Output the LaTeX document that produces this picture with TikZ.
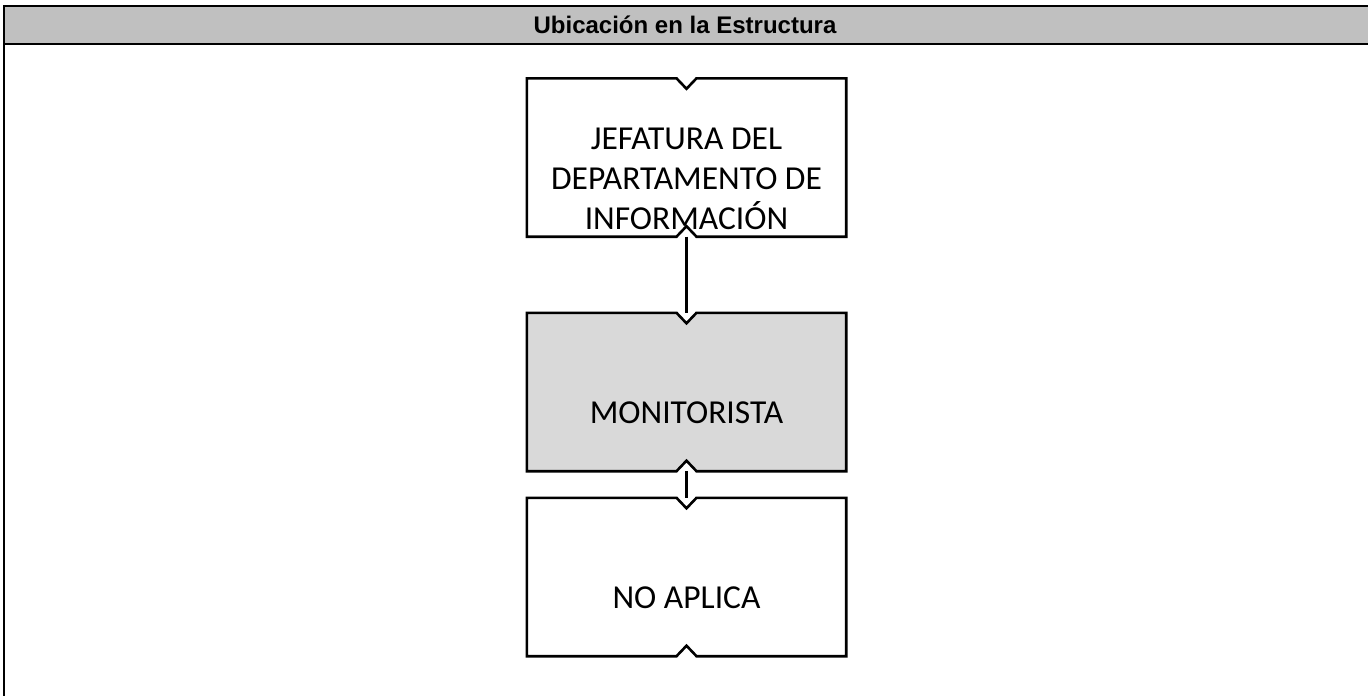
\documentclass[tikz,border=0pt]{standalone}
\usepackage{fontspec}
\newfontfamily\boxfont{Carlito}
\newfontfamily\headfont{Liberation Sans}
\usetikzlibrary{backgrounds}

\definecolor{headgray}{HTML}{C0C0C0}
\definecolor{boxgray}{HTML}{D9D9D9}

\tikzset{
    frameline/.style={line width=2.6pt},
    boxline/.style={line width=2.6pt, line join=miter},
    unitbox/.style={minimum width=319pt, minimum height=158pt, inner sep=0pt},
    boxtext/.style={font=\boxfont\fontsize{33.5}{40}\selectfont, align=center, yshift=-21pt},
    link/.style={line width=2.4pt},
}

\begin{document}
\begin{tikzpicture}[x=1pt,y=-1pt]
    % Fix the page to the reference size
    \clip (0,0) rectangle (1368,696);

    % Draw the header bar and the frame
    \fill[headgray] (4,6) rectangle (1372,44);
    \draw[frameline] (4,700) -- (4,6) -- (1372,6);
    \draw[frameline] (4,44) -- (1372,44);
    \node[font=\headfont\bfseries\fontsize{24}{28}\selectfont] (title) at (685,25) {Ubicación en la Estructura};

    % Place the boxes
    \node[unitbox, label={[boxtext]center:JEFATURA DEL\\DEPARTAMENTO DE\\INFORMACIÓN}] (jefatura) at (686.5,157.5) {};
    \node[unitbox, label={[boxtext]center:MONITORISTA}] (monitorista) at (686.5,392) {};
    \node[unitbox, label={[boxtext]center:NO APLICA}] (noaplica) at (686.5,577) {};

    % Draw the notched outlines behind the texts
    \begin{scope}[on background layer]
        \fill[white] (0,0) rectangle (1368,696);
        \foreach \n/\c in {jefatura/white, monitorista/boxgray, noaplica/white}
            \draw[boxline, fill=\c] (\n.north west) -- ([xshift=-10pt]\n.north)
                -- ([yshift=-10.5pt]\n.north) -- ([xshift=10pt]\n.north)
                -- (\n.north east) -- (\n.south east) -- ([xshift=10pt]\n.south)
                -- ([yshift=10.5pt]\n.south) -- ([xshift=-10pt]\n.south)
                -- (\n.south west) -- cycle;
    \end{scope}

    % Connect the boxes
    \draw[link] (jefatura.south) -- (monitorista.north);
    \draw[link] (monitorista.south) -- (noaplica.north);
\end{tikzpicture}
\end{document}
